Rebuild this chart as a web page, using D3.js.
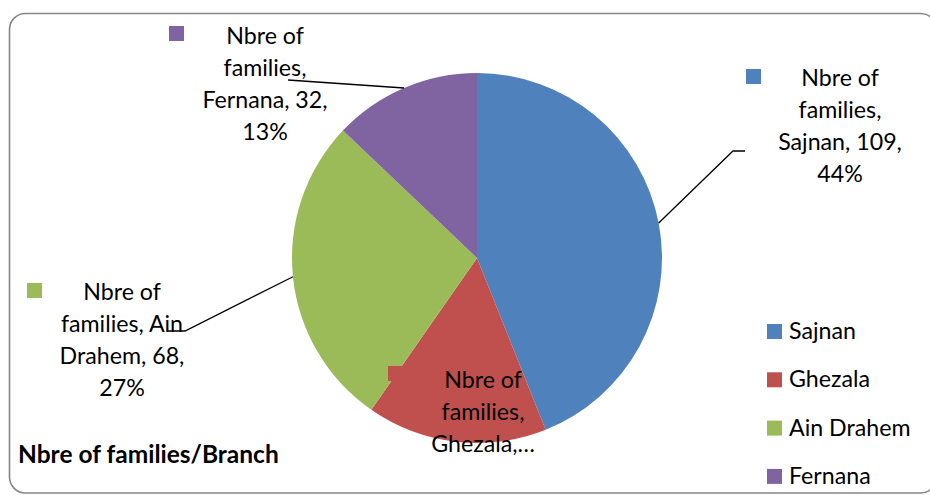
<!DOCTYPE html>
<html>
<head>
<meta charset="utf-8">
<script src="https://cdn.jsdelivr.net/npm/d3@7"></script>
<style>
  html, body { margin: 0; padding: 0; background: #fff; }
  svg { display: block; }
  text { font-family: Lato, "Open Sans", sans-serif; fill: #000; }
</style>
</head>
<body>
<svg id="chart" width="930" height="495"></svg>
<script>
// ---- data ----
const categories = ["Sajnan", "Ghezala", "Ain Drahem", "Fernana"];
const values = [109, 39, 68, 32];
const seriesName = "Nbre of families";
const chartTitle = "Nbre of families/Branch";
const colors = ["#4F81BD", "#C0504D", "#9BBB59", "#8064A2"];
// label text as wrapped in the original (Ghezala label is truncated)
const labelLines = [
  ["Nbre of", "families,", "Sajnan, 109,", "44%"],
  ["Nbre of", "families,", "Ghezala,…"],
  ["Nbre of", "families, Ain", "Drahem, 68,", "27%"],
  ["Nbre of", "families,", "Fernana, 32,", "13%"]
];

// ---- layout ----
const W = 930, H = 495;
const cx = 477, cy = 258, R = 185;
const fontSize = 23.2, lineH = 32;

const svg = d3.select("#chart");

// outer frame
svg.append("rect")
  .attr("x", 9.5).attr("y", 13.5)
  .attr("width", 927).attr("height", 479.5)
  .attr("rx", 16).attr("ry", 16)
  .attr("fill", "#fff")
  .attr("stroke", "#868686").attr("stroke-width", 1.6);

const pie = d3.pie().sort(null).value(d => d)
  .startAngle(0).endAngle(2 * Math.PI);
const arcs = pie(values);
const arc = d3.arc().innerRadius(0).outerRadius(R);
const color = d3.scaleOrdinal().domain(categories).range(colors);

const g = svg.append("g").attr("transform", `translate(${cx},${cy})`);
g.selectAll("path.slice")
  .data(arcs)
  .join("path")
  .attr("class", "slice")
  .attr("d", arc)
  .attr("fill", (d, i) => color(categories[i]));

// label anchor (center x, first baseline y), marker position, leader elbow
const labelLayout = [
  { x: 840, y: 86, mx: 746, my: 69, leader: [[745, 151], [733, 151]] },
  { x: 483, y: 388, mx: 388, my: 366, leader: null },
  { x: 122, y: 300, mx: 27, my: 283, leader: [[168, 331], [185, 331]] },
  { x: 265, y: 44, mx: 169, my: 26, leader: [[288, 80]] }
];

arcs.forEach((a, i) => {
  const L = labelLayout[i];
  if (L.leader) {
    const mid = (a.startAngle + a.endAngle) / 2;
    const ex = cx + R * Math.sin(mid), ey = cy - R * Math.cos(mid);
    const pts = [[ex, ey]].concat(L.leader.slice().reverse());
    svg.append("path")
      .attr("d", d3.line()(pts))
      .attr("fill", "none")
      .attr("stroke", "#000")
      .attr("stroke-width", 1.3);
  }
});

arcs.forEach((a, i) => {
  const L = labelLayout[i];
  svg.append("rect")
    .attr("x", L.mx).attr("y", L.my)
    .attr("width", 15).attr("height", 15)
    .attr("fill", color(categories[i]));
  const t = svg.append("text")
    .attr("text-anchor", "middle")
    .attr("font-size", fontSize);
  labelLines[i].forEach((ln, k) => {
    t.append("tspan")
      .attr("x", L.x)
      .attr("y", L.y + k * lineH)
      .text(ln);
  });
});

// title
svg.append("text")
  .attr("x", 18).attr("y", 463)
  .attr("font-size", 24.5)
  .attr("font-weight", "bold")
  .text(chartTitle);

// legend
const legend = svg.append("g");
categories.forEach((c, i) => {
  const y = 324 + i * 48.3;
  legend.append("rect")
    .attr("x", 767).attr("y", y)
    .attr("width", 15).attr("height", 15)
    .attr("fill", color(c));
  legend.append("text")
    .attr("x", 789).attr("y", y + 15)
    .attr("font-size", fontSize)
    .text(c);
});
</script>
</body>
</html>
